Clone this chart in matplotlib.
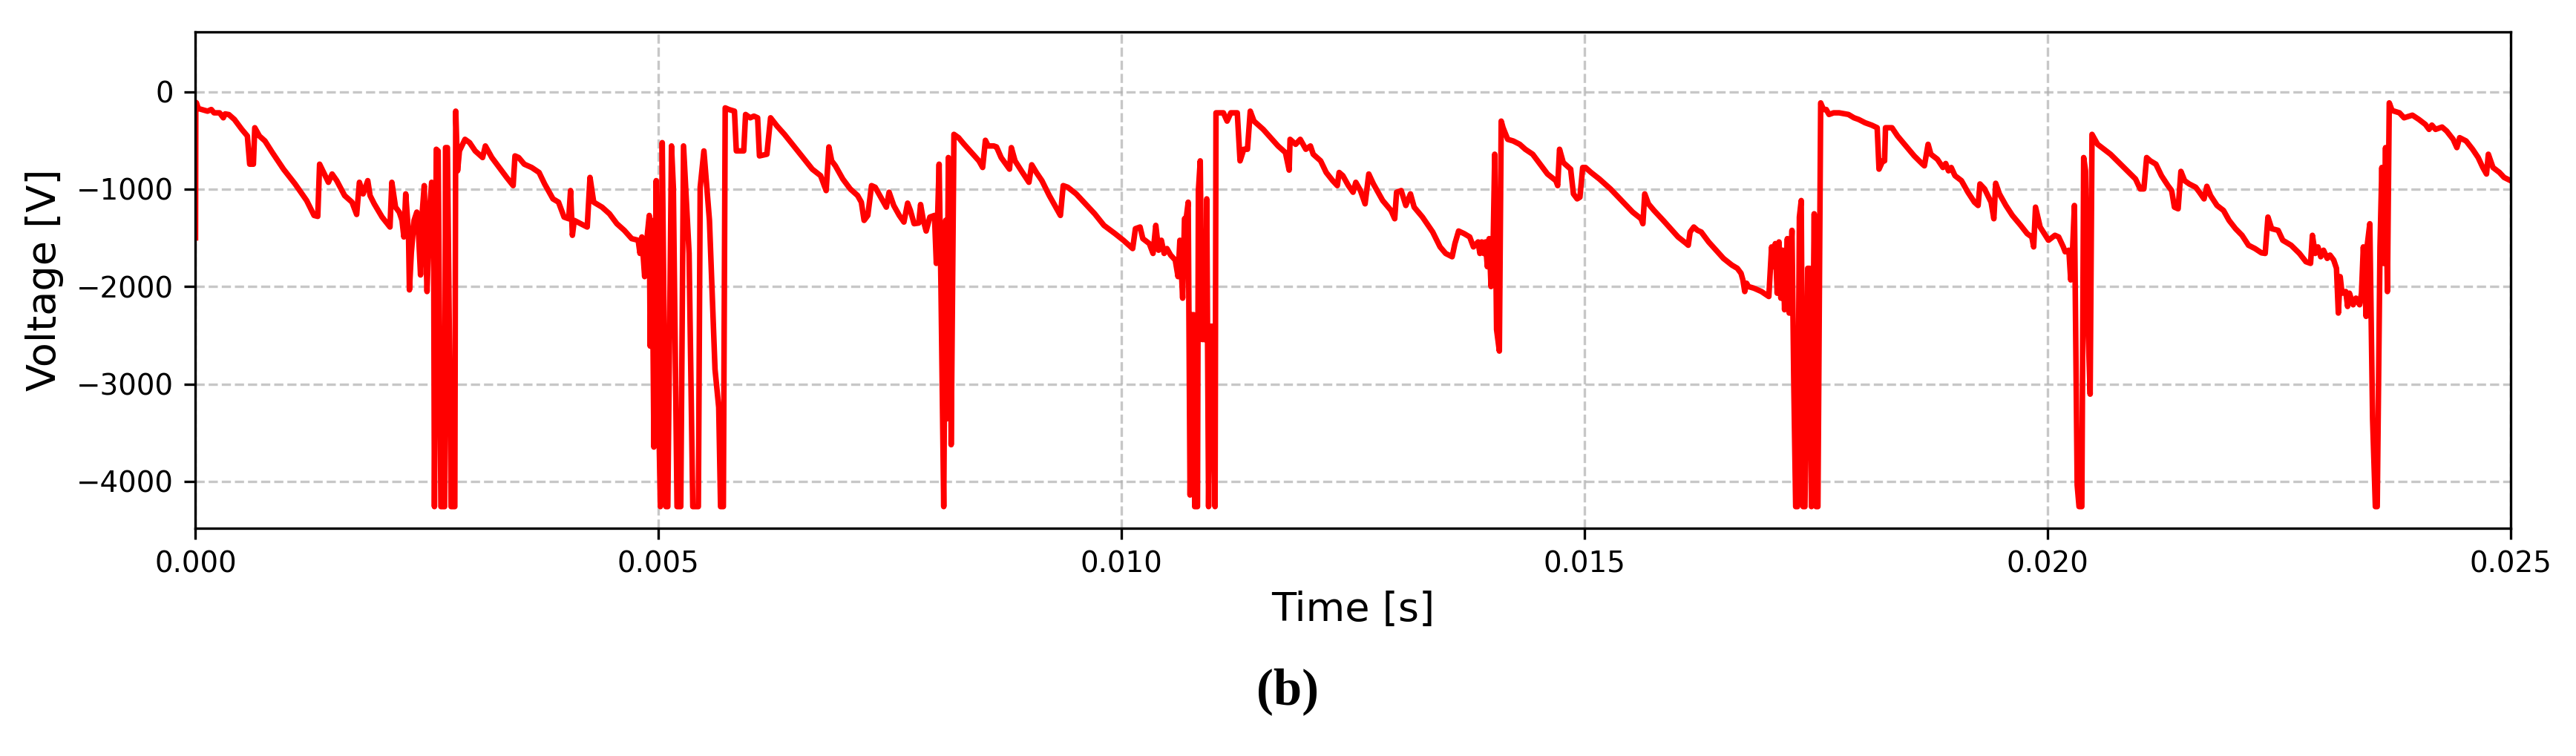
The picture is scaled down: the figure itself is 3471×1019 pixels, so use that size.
import numpy as np
import matplotlib
matplotlib.use("Agg")
import matplotlib.pyplot as plt

# time in milliseconds, voltage in volts
time_ms = [
    0.000, 0.003, 0.01, 0.03, 0.13, 0.17, 0.20, 0.26, 0.30, 0.32, 0.36, 0.42, 0.50, 0.56, 0.585, 0.625, 0.64, 0.69,
    0.75, 0.83, 0.95, 1.075, 1.20, 1.28, 1.32, 1.34, 1.40, 1.435, 1.475, 1.525, 1.61, 1.69, 1.74, 1.77, 1.81, 1.86,
    1.885, 1.93, 2.015, 2.10, 2.12, 2.16, 2.20, 2.23, 2.25, 2.27, 2.30, 2.31, 2.33, 2.36, 2.39, 2.41, 2.43, 2.45,
    2.47, 2.50, 2.53, 2.55, 2.57, 2.58, 2.60, 2.62, 2.65, 2.69, 2.70, 2.72, 2.76, 2.80, 2.81, 2.83, 2.85, 2.91,
    2.96, 3.02, 3.10, 3.13, 3.20, 3.28, 3.36, 3.43, 3.45, 3.49, 3.55, 3.63, 3.71, 3.77, 3.86, 3.92, 3.98, 4.03,
    4.05, 4.07, 4.09, 4.16, 4.23, 4.26, 4.30, 4.39, 4.47, 4.55, 4.63, 4.71, 4.78, 4.80, 4.82, 4.85, 4.88, 4.90,
    4.91, 4.93, 4.95, 4.975, 5.00, 5.02, 5.04, 5.08, 5.10, 5.14, 5.16, 5.20, 5.24, 5.27, 5.33, 5.37, 5.43, 5.45,
    5.49, 5.55, 5.61, 5.65, 5.67, 5.70, 5.72, 5.76, 5.82, 5.84, 5.92, 5.94,
    5.99, 6.03, 6.07, 6.09, 6.17, 6.21, 6.28, 6.36, 6.46, 6.56, 6.66, 6.75, 6.81, 6.84, 6.87, 6.91, 6.99, 7.07,
    7.15, 7.19, 7.22, 7.26, 7.30, 7.34, 7.40, 7.46, 7.49, 7.54, 7.60, 7.65, 7.69, 7.72, 7.76, 7.81, 7.83, 7.86,
    7.89, 7.93, 7.98, 8.00, 8.03, 8.05, 8.08, 8.10, 8.11, 8.13, 8.15, 8.16, 8.175, 8.19, 8.24, 8.30, 8.38, 8.46,
    8.50, 8.53, 8.56, 8.62, 8.65, 8.70, 8.79, 8.81, 8.85, 8.93, 9.00, 9.03, 9.08, 9.14, 9.22, 9.30, 9.34, 9.37,
    9.42, 9.51, 9.61, 9.71, 9.81, 9.93, 10.02, 10.10, 10.12, 10.15, 10.20, 10.23, 10.30, 10.34, 10.37, 10.40,
    10.43, 10.46, 10.49, 10.53, 10.58, 10.61, 10.63, 10.66, 10.68, 10.70, 10.72, 10.74, 10.76, 10.78, 10.79,
    10.82, 10.83, 10.85, 10.87, 10.91, 10.92, 10.94, 10.96, 10.98, 11.01, 11.02, 11.10, 11.14, 11.18, 11.25,
    11.28, 11.32, 11.36, 11.39, 11.43, 11.53, 11.61, 11.69, 11.77, 11.81, 11.82, 11.88, 11.93,
    11.99, 12.04, 12.07, 12.11, 12.15, 12.21, 12.28, 12.33, 12.35, 12.39, 12.45, 12.50, 12.53, 12.58, 12.63,
    12.67, 12.72, 12.82, 12.91, 12.95, 12.97, 13.02, 13.07, 13.12, 13.16, 13.25, 13.36, 13.44, 13.50, 13.57,
    13.60, 13.64, 13.70, 13.76, 13.80, 13.85, 13.87, 13.89, 13.91, 13.93, 13.95, 13.97, 13.99, 14.01, 14.03,
    14.05, 14.08, 14.10, 14.12, 14.17, 14.23, 14.30, 14.36, 14.44, 14.52, 14.60, 14.69, 14.71, 14.73, 14.77,
    14.81, 14.85, 14.88, 14.92, 14.95, 14.98, 15.01, 15.07, 15.16, 15.28, 15.40, 15.52, 15.61, 15.63, 15.65,
    15.69, 15.75, 15.85, 15.93, 16.01, 16.10, 16.12, 16.14, 16.18, 16.22, 16.26, 16.34, 16.42, 16.50, 16.59,
    16.65, 16.69, 16.71, 16.73, 16.75, 16.77, 16.83, 16.91, 16.99, 17.02, 17.04, 17.06, 17.08, 17.10, 17.12,
    17.14, 17.16, 17.19, 17.21, 17.22, 17.24, 17.26, 17.28, 17.30, 17.32, 17.34, 17.36, 17.38, 17.41, 17.43,
    17.45, 17.48, 17.50, 17.52, 17.55, 17.58, 17.61, 17.64, 17.69, 17.75, 17.85, 17.91,
    17.96, 18.03, 18.10, 18.16, 18.18, 18.22, 18.24, 18.25, 18.32, 18.38, 18.47, 18.56, 18.65, 18.67, 18.71,
    18.74, 18.81, 18.87, 18.90, 18.93, 18.96, 19.00, 19.07, 19.14, 19.21, 19.25, 19.27, 19.32, 19.39, 19.42,
    19.44, 19.48, 19.55, 19.62, 19.71, 19.78, 19.83, 19.85, 19.87, 19.92, 20.01, 20.08, 20.12, 20.17, 20.19,
    20.23, 20.25, 20.27, 20.29, 20.32, 20.34, 20.37, 20.39, 20.41, 20.44, 20.46, 20.48, 20.54, 20.61, 20.68,
    20.77, 20.86, 20.95, 21.00, 21.04, 21.07, 21.11, 21.17, 21.23, 21.30, 21.34, 21.37, 21.41, 21.44, 21.48,
    21.53, 21.60, 21.64, 21.69, 21.72, 21.76, 21.83, 21.90, 21.96, 22.03, 22.10, 22.17, 22.24, 22.31, 22.35,
    22.38, 22.42, 22.49, 22.54, 22.63, 22.72, 22.79, 22.84, 22.86, 22.89, 22.92, 22.95, 22.98, 23.02, 23.05,
    23.09, 23.12, 23.14, 23.16, 23.18, 23.22, 23.24, 23.26, 23.30, 23.33, 23.37, 23.39, 23.41, 23.43, 23.44,
    23.45, 23.48, 23.51, 23.54, 23.56, 23.59, 23.61, 23.63, 23.65, 23.67, 23.69, 23.72, 23.80, 23.85, 23.94,
    24.01, 24.08, 24.12, 24.15, 24.19, 24.26, 24.31, 24.38, 24.42, 24.45, 24.52, 24.59, 24.65, 24.70, 24.74,
    24.76, 24.81, 24.88, 24.93, 25.00,
]

voltage_v = [
    -1500, -110, -115, -173, -200, -183, -217, -217, -268, -228, -235, -285, -387, -455, -744, -744, -370, -455,
    -506, -625, -795, -947, -1117, -1270, -1280, -744, -862, -930, -845, -913, -1066, -1134, -1260, -930, -1049, -913,
    -1066, -1151, -1287, -1389, -930, -1185, -1236, -1321, -1491, -1049, -1457, -2034, -1660, -1321, -1236, -1491, -1881, -1219,
    -964, -2051, -1185, -930, -947, -4258, -591, -608, -4258, -4258, -574, -574, -4258, -4258, -200, -812, -608, -489,
    -523, -608, -676, -557, -676, -778, -880, -964, -659, -676, -744, -778, -829, -947, -1100, -1134, -1287, -1304,
    -1015, -1474, -1321, -1355, -1389, -880, -1134, -1185, -1253, -1355, -1423, -1508, -1525, -1660, -1491, -1898, -1457, -1270,
    -2611, -1321, -3647, -913, -3222, -4258, -523, -4258, -4258, -557, -981, -4258, -4258, -557, -1660, -4258, -4258, -981,
    -608, -1321, -2849, -3240, -4258, -4258, -166, -183, -200, -608, -608, -234,
    -268, -251, -268, -659, -642, -268, -353, -438, -557, -676, -795, -862, -1015, -567, -710, -761, -896, -998,
    -1066, -1134, -1321, -1270, -964, -981, -1083, -1185, -1032, -1168, -1270, -1338, -1144, -1219, -1355, -1348, -1158, -1321,
    -1430, -1287, -1270, -1762, -744, -2000, -4258, -1321, -3358, -676, -1321, -3623, -2000, -438, -472, -540, -625, -710,
    -778, -499, -557, -557, -567, -676, -795, -574, -710, -829, -930, -750, -829, -913, -1066, -1202, -1270, -964,
    -981, -1049, -1151, -1253, -1372, -1457, -1525, -1593, -1610, -1406, -1389, -1508, -1559, -1660, -1372, -1627,
    -1525, -1660, -1610, -1677, -1728, -1898, -1525, -2119, -1304, -1287, -1134, -4139, -2289, -2289, -4258,
    -4258, -1015, -710, -2543, -2543, -1100, -4258, -2407, -2407, -4258, -217, -217, -302, -217, -217,
    -710, -591, -591, -200, -302, -387, -472, -557, -625, -805, -489, -540, -489,
    -591, -557, -642, -676, -710, -829, -913, -964, -829, -862, -964, -1032, -930, -1015, -1151,
    -845, -947, -1117, -1219, -1304, -1032, -1015, -1168, -1049, -1185, -1287, -1440, -1593, -1660, -1694,
    -1559, -1430, -1457, -1491, -1593, -1542, -1660, -1542, -1660, -1542, -1796, -1508, -2000, -1728, -642,
    -2441, -2662, -302, -370, -489, -506, -540, -591, -642, -744, -845, -913, -964, -591, -727,
    -761, -795, -1049, -1100, -1083, -778, -778, -829, -896, -998, -1117, -1236, -1304, -1355, -1049,
    -1151, -1219, -1321, -1406, -1491, -1559, -1576, -1440, -1389, -1423, -1440, -1542, -1627, -1711, -1779,
    -1813, -1864, -1932, -2051, -1966, -2000, -2017, -2051, -2102, -1593, -1796, -1559, -2068, -1542, -2119,
    -1627, -2238, -1508, -2272, -1932, -1423, -3019, -4258, -4258, -1287, -1117, -4258, -4258, -1813, -1813,
    -4258, -1253, -4258, -4258, -115, -183, -183, -234, -217, -217, -234, -268,
    -285, -319, -343, -370, -795, -710, -710, -370, -370, -455, -557, -659, -744, -761, -540,
    -642, -693, -778, -737, -812, -778, -862, -913, -1032, -1134, -1168, -947, -998, -1134, -1304,
    -940, -1049, -1168, -1270, -1372, -1457, -1491, -1593, -1185, -1389, -1525, -1474, -1491, -1593, -1643,
    -1627, -1932, -1627, -1168, -4037, -4258, -4258, -676, -812, -2509, -3104, -438, -540, -591, -642,
    -727, -812, -896, -998, -998, -676, -710, -744, -862, -964, -1015, -1185, -1202, -818, -913,
    -947, -981, -1032, -1100, -971, -1066, -1168, -1219, -1321, -1406, -1474, -1576, -1610, -1654, -1660,
    -1287, -1406, -1423, -1525, -1576, -1660, -1745, -1762, -1474, -1660, -1593, -1694, -1627, -1711, -1677,
    -1728, -1813, -2272, -1898, -2068, -2051, -2204, -2068, -2187, -2119, -2187, -2068, -1593, -2068, -2306,
    -1593, -1355, -3358, -4258, -4258, -1593, -778, -1762, -574, -2051, -115, -193, -217, -268, -241,
    -285, -336, -387, -343, -387, -363, -404, -489, -574, -472, -506, -591, -676, -778, -845,
    -642, -778, -829, -880, -913,
]

x_ticks = [0.000, 0.005, 0.010, 0.015, 0.020, 0.025]
y_ticks = [0, -1000, -2000, -3000, -4000]

t = np.array(time_ms) * 1e-3
v = np.array(voltage_v)

fig = plt.figure(figsize=(3471 / 300, 1019 / 300), dpi=300)
ax = fig.add_axes([0.0759, 0.3013, 0.8987, 0.6567])
ax.plot(t, v, color="red", linewidth=1.8)
ax.set_xlim(0, 0.025)
ax.set_ylim(-4480, 615)
ax.set_xticks(x_ticks)
ax.set_yticks(y_ticks)
ax.tick_params(labelsize=9.3)
ax.grid(True, linestyle="--", color="#b0b0b0", alpha=0.7, linewidth=0.8)
ax.set_xlabel("Time [s]", fontsize=13)
ax.set_ylabel("Voltage [V]", fontsize=13)
for s in ax.spines.values():
    s.set_linewidth(0.8)

fig.text(0.5, 0.085, "(b)", ha="center", va="center", fontsize=16.5,
         fontweight="bold", family="Liberation Serif")

fig.savefig("out.png", dpi=300)
